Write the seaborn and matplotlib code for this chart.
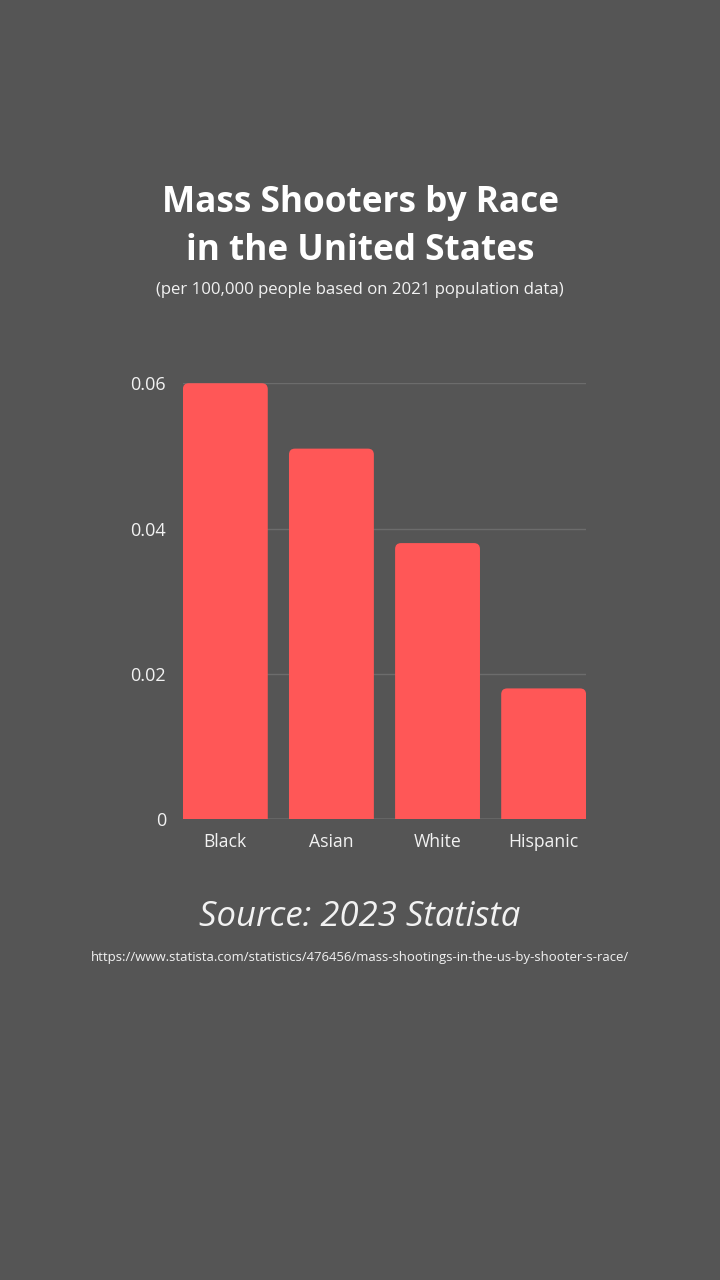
import matplotlib
matplotlib.use("Agg")
import matplotlib.pyplot as plt
from matplotlib.patches import FancyBboxPatch
import seaborn as sns

# data
races = ["Black", "Asian", "White", "Hispanic"]
rates = [0.060, 0.051, 0.038, 0.018]
y_ticks = [0, 0.02, 0.04, 0.06]
y_tick_labels = ["0", "0.02", "0.04", "0.06"]

bg = "#555555"
bar_color = "#FF5757"
text_color = "#F2F2F2"

sns.set_theme(style="dark")
plt.rcParams["font.family"] = ["Open Sans", "DejaVu Sans"]

fig = plt.figure(figsize=(7.2, 12.8), dpi=100, facecolor=bg)
ax = fig.add_axes([0.254, 0.360, 0.560, 0.3406])
ax.set_facecolor(bg)

sns.barplot(x=races, y=rates, color=bar_color, width=0.8, saturation=1, ax=ax)

# swap plain bars for ones with rounded top corners
px_x = 0.560 * 720 / 3.8
px_y = 0.3406 * 1280 / 0.06
radius = 6 / px_x
for bar in list(ax.patches):
    x, w, h = bar.get_x(), bar.get_width(), bar.get_height()
    ext = radius * px_x / px_y * 2
    rp = FancyBboxPatch((x, -ext), w, h + ext,
                        boxstyle=f"round,pad=0,rounding_size={radius}",
                        mutation_aspect=px_x / px_y,
                        facecolor=bar_color, edgecolor="none", zorder=2)
    bar.remove()
    ax.add_patch(rp)

ax.set_xlim(-0.4, 3.4)
ax.set_ylim(0, 0.06)
ax.set_yticks(y_ticks)
ax.set_yticklabels(y_tick_labels)
for y in y_ticks[1:]:
    ax.axhline(y, color="#6C6C6C", lw=1, zorder=1)
ax.axhline(0, color="#A8A8A8", lw=1, zorder=1)
ax.grid(False)
for s in ax.spines.values():
    s.set_visible(False)
ax.tick_params(axis="y", colors=text_color, labelsize=13, length=0, pad=12)
ax.tick_params(axis="x", colors=text_color, labelsize=12.7, length=0, pad=10)
ax.set_xlabel("")
ax.set_ylabel("")

fig.text(0.5, 1 - 203 / 1280, "Mass Shooters by Race", ha="center", va="center",
         color="white", fontsize=25.3, fontweight="bold")
fig.text(0.5, 1 - 251 / 1280, "in the United States", ha="center", va="center",
         color="white", fontsize=25.3, fontweight="bold")
fig.text(0.5, 1 - 290 / 1280, "(per 100,000 people based on 2021 population data)",
         ha="center", va="center", color=text_color, fontsize=12.1)
fig.text(0.5, 1 - 917 / 1280, "Source: 2023 Statista", ha="center", va="center",
         color=text_color, fontsize=24.9, style="italic")
fig.text(0.5, 1 - 958 / 1280,
         "https://www.statista.com/statistics/476456/mass-shootings-in-the-us-by-shooter-s-race/",
         ha="center", va="center", color=text_color, fontsize=9.45)

fig.savefig("out.png", dpi=100, facecolor=bg)
